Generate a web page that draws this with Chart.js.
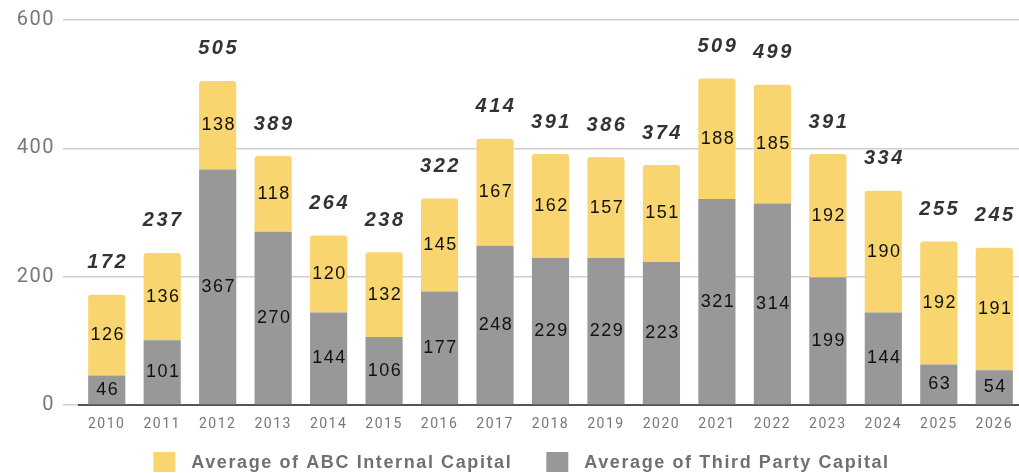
<!DOCTYPE html>
<html>
<head>
<meta charset="utf-8">
<script src="https://cdn.jsdelivr.net/npm/chart.js@4/dist/chart.umd.min.js"></script>
<style>
  html, body { margin: 0; padding: 0; background: #fff; overflow: hidden; }
  #wrap { width: 1024px; height: 473px; position: relative; }
</style>
</head>
<body>
<div id="wrap"><canvas id="myChart"></canvas></div>
<script>
const years = ['2010', '2011', '2012', '2013', '2014', '2015', '2016', '2017', '2018',
    '2019', '2020', '2021', '2022', '2023', '2024', '2025', '2026'];
const thirdParty = [46, 101, 367, 270, 144, 106, 177, 248, 229, 229, 223, 321, 314, 199, 144, 63, 54];
const abcInternal = [126, 136, 138, 118, 120, 132, 145, 167, 162, 157, 151, 188, 185, 192, 190, 192, 191];
const totals = [172, 237, 505, 389, 264, 238, 322, 414, 391, 386, 374, 509, 499, 391, 334, 255, 245];
const yTicks = [0, 200, 400, 600];

// the reference text is a bit wide, so space the letters out a little
const wideText = {
    id: 'wideText',
    beforeLayout(chart) { chart.ctx.letterSpacing = '1.5px'; },
    beforeDraw(chart) { chart.ctx.letterSpacing = '1.5px'; }
};

// draws the numbers inside the bars and the totals above them
const barLabels = {
    id: 'barLabels',
    afterDatasetsDraw(chart) {
        const ctx = chart.ctx;
        ctx.save();
        ctx.textAlign = 'center';
        ctx.textBaseline = 'middle';
        ctx.letterSpacing = '1.5px';
        ctx.font = '18px "Liberation Sans", Arial, sans-serif';
        ctx.fillStyle = '#111';
        chart.data.datasets.forEach(function (ds, i) {
            const meta = chart.getDatasetMeta(i);
            meta.data.forEach(function (bar, j) {
                const mid = (bar.y + bar.base) / 2;
                ctx.fillText(String(ds.data[j]), bar.x + 1, mid);
            });
        });
        const top = chart.getDatasetMeta(chart.data.datasets.length - 1);
        ctx.letterSpacing = '2.5px';
        ctx.font = 'italic bold 20px "Liberation Sans", Arial, sans-serif';
        ctx.fillStyle = '#333';
        top.data.forEach(function (bar, j) {
            ctx.fillText(String(totals[j]), bar.x + 1, bar.y - 32);
        });
        ctx.restore();
    }
};

// legend drawn by hand so the spacing can follow the picture
const bottomLegend = {
    id: 'bottomLegend',
    afterDraw(chart) {
        const ctx = chart.ctx;
        const items = chart.data.datasets.slice().reverse();
        const box = 22, boxGap = 16, itemGap = 34;
        ctx.save();
        ctx.letterSpacing = '1.6px';
        ctx.font = 'bold 18px "Liberation Sans", Arial, sans-serif';
        let total = 0;
        const widths = items.map(function (ds) {
            const w = ctx.measureText(ds.label).width;
            total += box + boxGap + w;
            return w;
        });
        total += itemGap * (items.length - 1);
        let x = 1019 / 2 + 12 - total / 2;
        const y = 462;
        ctx.textBaseline = 'middle';
        ctx.textAlign = 'left';
        items.forEach(function (ds, i) {
            ctx.fillStyle = ds.backgroundColor;
            ctx.fillRect(x, y - 10, box, 20);
            ctx.fillStyle = '#707070';
            ctx.fillText(ds.label, x + box + boxGap, y + 1);
            x += box + boxGap + widths[i] + itemGap;
        });
        ctx.restore();
    }
};

const ctx = document.getElementById('myChart').getContext('2d');

const data = {
    labels: years,
    datasets: [{
        label: 'Average of Third Party Capital',
        data: thirdParty,
        backgroundColor: '#989898',
        barPercentage: 0.67,
        categoryPercentage: 1
    }, {
        label: 'Average of ABC Internal Capital',
        data: abcInternal,
        backgroundColor: '#F8D56E',
        borderRadius: { topLeft: 3, topRight: 3 },
        borderSkipped: 'bottom',
        barPercentage: 0.67,
        categoryPercentage: 1
    }]
};

const options = {
    responsive: true,
    maintainAspectRatio: false,
    animation: false,
    layout: {
        padding: { top: 0, left: 0, right: 0, bottom: 38 }
    },
    plugins: {
        tooltip: { enabled: false },
        legend: { display: false }
    },
    scales: {
        x: {
            stacked: true,
            afterFit: function (axis) { axis.height = 30; },
            grid: { display: false, drawTicks: false },
            border: { display: true, color: '#555', width: 2 },
            ticks: {
                color: '#777',
                padding: 11,
                font: { family: 'Roboto, sans-serif', size: 14 }
            }
        },
        y: {
            stacked: true,
            min: 0,
            max: 600,
            afterBuildTicks: function (axis) {
                axis.ticks = yTicks.map(function (v) { return { value: v }; });
            },
            afterFit: function (axis) { axis.width = 79; },
            border: { display: false },
            grid: { color: '#cfcfcf', lineWidth: 1.5, tickLength: 16 },
            ticks: {
                color: '#777',
                padding: 8,
                font: { family: 'Roboto, sans-serif', size: 20 }
            }
        }
    }
};

new Chart(ctx, {
    type: 'bar',
    data: data,
    options: options,
    plugins: [wideText, barLabels, bottomLegend]
});
</script>
</body>
</html>
